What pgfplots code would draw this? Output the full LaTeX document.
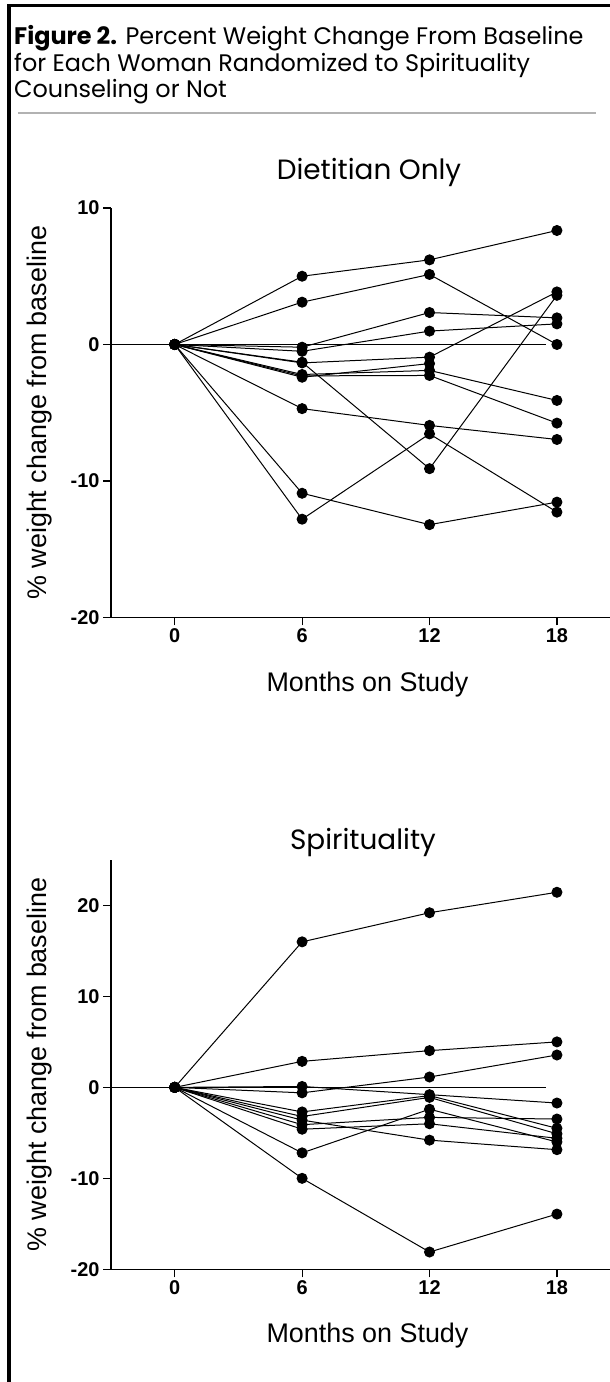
\documentclass[border=0pt]{standalone}
\usepackage{fontspec}
\setmainfont{Liberation Sans}
\newfontfamily\gothic{Poppins}
\usepackage{pgfplots}
\pgfplotsset{compat=1.18}

\pgfplotsset{
  wt/.style={
    scale only axis, width=499bp, height=409.5bp, anchor=south west,
    axis x line*=bottom, axis y line*=left,
    xmin=-3, xmax=20.5, xtick={0,6,12,18},
    tick align=outside, major tick length=8bp,
    axis line style={line width=1.2bp},
    every tick/.style={black, line width=1.2bp},
    /pgf/number format/assume math mode=true,
    tick label style={font=\bfseries\fontsize{20}{20}\selectfont},
    label style={font=\fontsize{27}{27}\selectfont},
    xlabel={Months on Study},
    xlabel style={at={(axis description cs:0.514,-0.18)}, anchor=base},
    ylabel={\% weight change from baseline},
    ylabel style={at={(axis description cs:-0.1423,0.5)}, anchor=center},
    title style={font=\gothic\fontsize{28}{28}\selectfont, anchor=base},
    clip=false,
  },
  subj/.style={black, line width=1bp, mark=*, mark size=5bp, mark options={fill=black, solid}},
  zero/.style={black, line width=1bp, no marks},
}

\begin{document}
\begin{tikzpicture}[x=1bp, y=1bp]

% frame and caption
\draw[line width=3.5bp] (9,0) -- (9,1376.5) -- (612,1376.5);
\tikzset{captxt/.style={anchor=base west, inner sep=0, font=\gothic\fontsize{24}{24}\selectfont}}
\node[captxt] at (14,1337) {\textbf{Figure 2.} Percent Weight Change From Baseline};
\node[captxt] at (14,1310) {for Each Woman Randomized to Spirituality};
\node[captxt] at (14,1284) {Counseling or Not};
\draw[gray!60, line width=2.2bp] (18,1269) -- (596,1269);

% Dietitian only
\begin{axis}[wt, at={(111bp,764.5bp)},
  ymin=-20, ymax=10, ytick={-20,-10,0,10},
  title={Dietitian Only}, title style={at={(axis description cs:0.517,1.056)}}]
\addplot[zero] coordinates {(-3,0) (17.5,0)};
\addplot[subj] coordinates {(0,0) (6,5.0) (12,6.2) (18,8.35)};
\addplot[subj] coordinates {(0,0) (6,3.1) (12,5.13) (18,0)};
\addplot[subj] coordinates {(0,0) (6,-0.2) (12,2.34) (18,1.95)};
\addplot[subj] coordinates {(0,0) (6,-0.5) (12,0.98) (18,1.51)};
\addplot[subj] coordinates {(0,0) (6,-1.3) (12,-9.1) (18,3.6)};
\addplot[subj] coordinates {(0,0) (6,-1.35) (12,-0.93) (18,3.85)};
\addplot[subj] coordinates {(0,0) (6,-2.2) (12,-1.9) (18,-4.1)};
\addplot[subj] coordinates {(0,0) (6,-2.3) (12,-2.27) (18,-5.76)};
\addplot[subj] coordinates {(0,0) (6,-2.4) (12,-1.4)};
\addplot[subj] coordinates {(0,0) (6,-4.7) (12,-5.93) (18,-6.96)};
\addplot[subj] coordinates {(0,0) (6,-10.9) (12,-13.2) (18,-11.55)};
\addplot[subj] coordinates {(0,0) (6,-12.8) (12,-6.55) (18,-12.28)};
\end{axis}

% Spirituality
\begin{axis}[wt, at={(111bp,112.7bp)}, height=409.3bp,
  ymin=-20, ymax=25, ytick={-20,-10,0,10,20},
  title={Spirituality}, title style={at={(axis description cs:0.505,1.012)}}]
\addplot[zero] coordinates {(-3,0) (17.5,0)};
\addplot[subj] coordinates {(0,0) (6,16.0) (12,19.2) (18,21.45)};
\addplot[subj] coordinates {(0,0) (6,2.86) (12,4.04) (18,5.0)};
\addplot[subj] coordinates {(0,0) (6,-0.6) (12,1.14) (18,3.56)};
\addplot[subj] coordinates {(0,0) (6,0.1) (12,-0.8) (18,-1.72)};
\addplot[subj] coordinates {(0,0) (6,-2.7) (12,-0.9) (18,-4.5)};
\addplot[subj] coordinates {(0,0) (6,-3.2) (12,-1.1) (18,-5.1)};
\addplot[subj] coordinates {(0,0) (6,-3.6) (12,-5.8) (18,-6.85)};
\addplot[subj] coordinates {(0,0) (6,-4.1) (12,-3.3) (18,-3.48)};
\addplot[subj] coordinates {(0,0) (6,-4.6) (12,-4.0) (18,-5.6)};
\addplot[subj] coordinates {(0,0) (6,-7.2) (12,-2.4) (18,-6.0)};
\addplot[subj] coordinates {(0,0) (6,-10.0) (12,-18.1) (18,-13.93)};
\end{axis}

\pgfresetboundingbox
\path (0,0) rectangle (610,1382);
\end{tikzpicture}
\end{document}
